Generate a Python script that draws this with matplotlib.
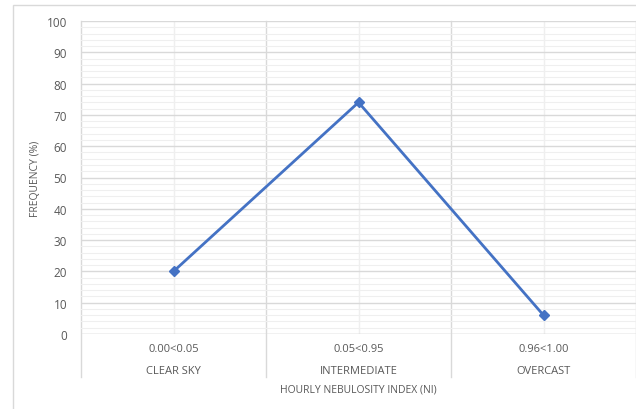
import matplotlib
matplotlib.use('Agg')
import matplotlib.pyplot as plt
from matplotlib.patches import Rectangle
from matplotlib.ticker import MultipleLocator

# data
ranges = ['0.00<0.05', '0.05<0.95', '0.96<1.00']
sky_types = ['CLEAR SKY', 'INTERMEDIATE', 'OVERCAST']
frequency = [20, 74, 6]

plt.rcParams['font.family'] = ['Open Sans', 'DejaVu Sans']
text_color = '#595959'
grid_major = '#d9d9d9'
grid_minor = '#efefef'

fig = plt.figure(figsize=(6.36, 4.10), dpi=100)
# outer chart frame
fig.patches.append(Rectangle((13 / 636, -0.01), 1.0, 1 - 6 / 410 + 0.01,
                             transform=fig.transFigure, fill=False,
                             edgecolor='#d9d9d9', linewidth=1))

ax = fig.add_axes([81 / 636, 1 - 335 / 410, 1 - 81 / 636, 313 / 410])

x = list(range(len(frequency)))
ax.set_xlim(-0.5, len(frequency) - 0.5)
ax.set_ylim(0, 100)

ax.yaxis.set_major_locator(MultipleLocator(10))
ax.yaxis.set_minor_locator(MultipleLocator(2))
ax.grid(axis='y', which='major', color=grid_major, linewidth=1)
ax.grid(axis='y', which='minor', color=grid_minor, linewidth=0.8)
ax.set_axisbelow(True)

# vertical grid: light lines at categories, darker at boundaries
for xi in x:
    ax.axvline(xi, color=grid_minor, linewidth=1, zorder=0)
xtr = ax.get_xaxis_transform()
for b in [i - 0.5 for i in range(len(frequency) + 1)]:
    ax.plot([b, b], [-(378 - 335) / 313, 1], color=grid_major, linewidth=1,
            transform=xtr, clip_on=False, zorder=0.5)

for s in ax.spines.values():
    s.set_visible(False)
ax.axhline(0, color=grid_major, linewidth=1, zorder=0.5)

ax.plot(x, frequency, color='#4472C4', linewidth=2, marker='D', markersize=5,
        zorder=3)

ax.set_xticks([])
ax.tick_params(axis='y', which='both', length=0, labelsize=8.5,
               labelcolor=text_color, pad=10)

# two-level category labels (Excel-style letter spacing is wider)
for xi, r, s in zip(x, ranges, sky_types):
    ax.text(xi, -(350 - 335) / 313, r, transform=xtr, ha='center', va='center',
            fontsize=8, color=text_color)
    ax.text(xi, -(372 - 335) / 313, s, transform=xtr, ha='center', va='center',
            fontsize=8, color=text_color)

ax.text(1, -(390 - 335) / 313, 'HOURLY NEBULOSITY INDEX (NI)', transform=xtr,
        ha='center', va='center', fontsize=7.5, color=text_color)
ax.set_ylabel('FREQUENCY (%)', fontsize=7.5, color=text_color, labelpad=4)

fig.savefig('out.png', dpi=100)
